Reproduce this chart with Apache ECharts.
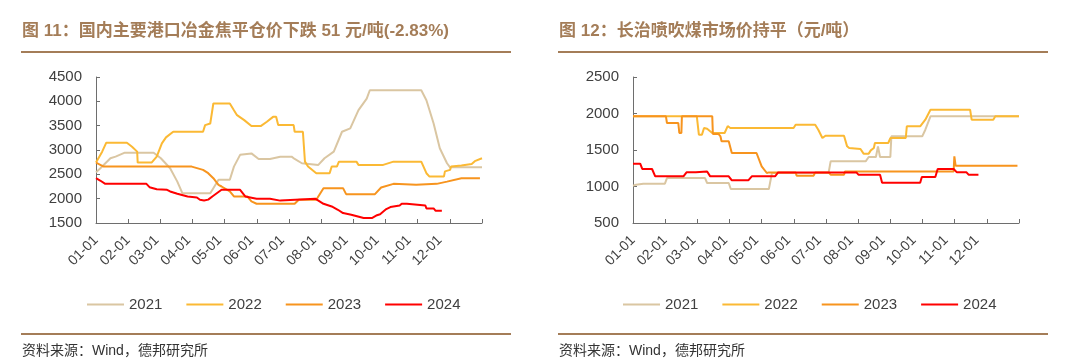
<!DOCTYPE html>
<html>
<head>
<meta charset="utf-8">
<script src="https://cdn.jsdelivr.net/npm/echarts@6/dist/echarts.min.js"></script>
<style>
html,body{margin:0;padding:0;background:#fff;}
#chart{width:1080px;height:364px;}
</style>
</head>
<body>
<div id="chart"></div>
<script>
// ---- tick labels / axes ----
const monthStartDays = [0,31,59,90,120,151,181,212,243,273,304,334];
const monthLabels = ['01-01','02-01','03-01','04-01','05-01','06-01','07-01','08-01','09-01','10-01','11-01','12-01'];
const tickDays = [0,31.25,62.5,93.75,125,156.25,187.5,218.75,250,281.25,312.5,343.75,375];
const years = ['2021','2022','2023','2024'];

// ---- Chart 1: 冶金焦平仓价 (day of year, value) ----
const cokeDays2021 = [0,4,14,19,28,56,63,72,79,84,111,114,119,130,134,140,151,158,169,179,190,193,200,216,222,231,239,247,255,263,266,316,321,328,334,341,344,375];
const coke2021 = [2540,2620,2830,2864,2945,2945,2830,2625,2350,2110,2110,2216,2390,2390,2659,2900,2930,2815,2815,2863,2863,2816,2728,2694,2830,2966,3375,3444,3818,4057,4228,4228,4023,3546,3035,2728,2645,2645];

const cokeDays2022 = [0,6,10,30,35,40,40.5,54,59,64,68,75,104,106,111,114,130,134,137,144,151,160,166,172,175,177,192,193,201,203,206,214,227,229,234,236,253,255,279,289,316,321,324,338,339,344,345,355,365,368,375];
const coke2022 = [2741,2966,3150,3150,3068,2966,2741,2741,2864,3136,3259,3375,3375,3511,3545,3955,3955,3818,3716,3614,3491,3491,3580,3681,3681,3512,3512,3375,3375,2761,2660,2524,2524,2660,2660,2761,2761,2694,2694,2761,2761,2523,2454,2454,2560,2591,2660,2680,2714,2770,2830];

const cokeDays2023 = [0,7.5,93,104,109,114,119,122,130,134,147,151,156,193,197,214,221,240,243,271,277,289,311,331,341,355,373];
const coke2023 = [2741,2659,2659,2591,2523,2420,2284,2250,2148,2045,2045,1943,1895,1895,1977,1977,2216,2216,2093,2093,2230,2304,2285,2304,2350,2420,2420];

const cokeDays2024 = [0,4,9,49,52,59,69,72,79,89,98,101,105,109,114,122,140,145,156,169,170,179,180,213,221,229,235,240,248,260,268,273,276,282,286,295,297,302,303,320,321,328,330,336];
const coke2024 = [2420,2373,2305,2305,2236,2195,2182,2148,2100,2045,2025,1977,1963,1980,2059,2182,2182,2045,1998,1998,1960,1960,2000,2000,1895,1840,1772,1704,1670,1602,1602,1660,1680,1786,1827,1860,1895,1895,1860,1860,1800,1800,1751,1751];

// ---- Chart 2: 长治喷吹煤市场价 ----
const coalDays2021 = [0,3,10,31,33,70,72,93,95,132,135,190,192,226,229,236,238,240,250,251,281,284,289,375];
const coal2021 = [1011,1025,1039,1039,1116,1116,1048,1048,966,966,1185,1185,1345,1345,1404,1404,1550,1404,1404,1687,1687,1778,1961,1961];

const coalDays2022 = [0,62,64,67,69,72,77,89,92,94.5,156,158,177,180,184,187,205,208,210,221,224,229,231,234,235,248,250,265,266,279,284,289,327.5,329,350,352,375];
const coal2022 = [1961,1961,1710,1710,1801,1790,1733,1733,1828,1801,1801,1847,1847,1778,1664,1696,1696,1550,1527,1513,1450,1450,1495,1527,1596,1596,1664,1664,1824,1824,1915,2052,2052,1915,1915,1961,1961];

const coalDays2023 = [0,32,33,44,45,47,47.5,77,77.6,83,85,86,93,96,120,125,130,132,158,159,175.5,177,190,192,205,206,311.5,312.2,313.4,373.5];
const coal2023 = [1961,1961,1870,1870,1733,1733,1961,1961,1720,1720,1686,1619,1619,1459,1459,1276,1185,1193,1193,1148,1148,1193,1193,1162,1162,1207,1207,1413,1285,1285];

const coalDays2024 = [0,7,9,18.5,21.6,49,52,61,62,72,75,93,96,112,115.4,138,141,217,219,240,242,279,280.6,293.7,296,311.5,314.7,324,326,335.6];
const coal2024 = [1313,1313,1240,1240,1139,1139,1194,1194,1205,1205,1139,1139,1084,1084,1139,1139,1193,1193,1162,1162,1052,1052,1130,1130,1240,1240,1194,1194,1162,1162];

const colors = ['#dac6a2','#fbb934','#f7941e','#ff0000'];

function zip(xs, ys){ return xs.map((x,i)=>[x, ys[i]]); }

const baseFont = '"Liberation Sans", Arial, "Noto Sans CJK SC", sans-serif';
const cjkFont = '"Liberation Sans", "Noto Sans CJK SC", sans-serif';
const brown = '#a47d58';
const axisColor = '#6e6e6e';
const textColor = '#404040';
const legendIcon = 'path://M0,6 L37,6 L37,8 L0,8 Z';

function xAxisCfg(gi){
  return {
    type:'value', gridIndex:gi, min:0, max:375,
    axisLine:{show:true, lineStyle:{color:axisColor, width:1}},
    axisTick:{show:true, inside:true, length:4, lineStyle:{color:axisColor}, customValues: tickDays},
    axisLabel:{show:true, rotate:45, margin:15, fontSize:14, color:textColor, fontFamily:baseFont,
      customValues: monthStartDays,
      formatter:function(v){ const i = monthStartDays.indexOf(Math.round(v)); return i>=0 ? monthLabels[i] : ''; }},
    splitLine:{show:false}
  };
}
function yAxisCfg(gi, min, max){
  return {
    type:'value', gridIndex:gi, min:min, max:max, interval:500,
    axisLine:{show:true, lineStyle:{color:axisColor, width:1}},
    axisTick:{show:true, inside:true, length:4, lineStyle:{color:axisColor}},
    axisLabel:{show:true, margin:14, fontSize:15, color:textColor, fontFamily:baseFont,
      formatter:function(v){ return String(v); }},
    splitLine:{show:false}
  };
}
function lineSeries(name, xi, yi, xs, ys, c){
  return {name:name, type:'line', xAxisIndex:xi, yAxisIndex:yi, data:zip(xs, ys),
    symbol:'none', showSymbol:false, lineStyle:{width:2, color:c}, itemStyle:{color:c},
    emphasis:{disabled:true}, animation:false};
}
function legendCfg(left){
  return {
    left:left, top:292, itemWidth:37, itemHeight:14, itemGap:24, icon:legendIcon,
    selectedMode:false,
    textStyle:{fontSize:15, color:textColor, fontFamily:baseFont},
    data: years.map((y,i)=>({name:y, itemStyle:{color:colors[i]}}))
  };
}

const chart = echarts.init(document.getElementById('chart'), null, {renderer:'canvas'});
const option = {
  backgroundColor:'#ffffff',
  animation:false,
  grid:[
    {left:96, top:77, width:386, height:146},
    {left:633, top:77, width:386, height:146}
  ],
  xAxis:[xAxisCfg(0), xAxisCfg(1)],
  yAxis:[yAxisCfg(0,1500,4500), yAxisCfg(1,500,2500)],
  legend:[legendCfg(82), legendCfg(618)],
  series:[
    lineSeries('2021',0,0,cokeDays2021,coke2021,colors[0]),
    lineSeries('2022',0,0,cokeDays2022,coke2022,colors[1]),
    lineSeries('2023',0,0,cokeDays2023,coke2023,colors[2]),
    lineSeries('2024',0,0,cokeDays2024,coke2024,colors[3]),
    lineSeries('2021',1,1,coalDays2021,coal2021,colors[0]),
    lineSeries('2022',1,1,coalDays2022,coal2022,colors[1]),
    lineSeries('2023',1,1,coalDays2023,coal2023,colors[2]),
    lineSeries('2024',1,1,coalDays2024,coal2024,colors[3])
  ],
  graphic:[
    {type:'text', left:22, top:23, style:{text:'图 11：国内主要港口冶金焦平仓价下跌 51 元/吨(-2.83%)', fontSize:17, fontWeight:'bold', fill:brown, fontFamily:cjkFont}},
    {type:'text', left:559, top:23, style:{text:'图 12：长治喷吹煤市场价持平（元/吨）', fontSize:17, fontWeight:'bold', fill:brown, fontFamily:cjkFont}},
    {type:'rect', shape:{x:21, y:51, width:490, height:2}, style:{fill:brown}},
    {type:'rect', shape:{x:558, y:51, width:490, height:2}, style:{fill:brown}},
    {type:'rect', shape:{x:21, y:333, width:490, height:2}, style:{fill:brown}},
    {type:'rect', shape:{x:558, y:333, width:490, height:2}, style:{fill:brown}},
    {type:'text', left:22, top:344, style:{text:'资料来源：Wind，德邦研究所', fontSize:14, fill:'#333333', fontFamily:cjkFont}},
    {type:'text', left:559, top:344, style:{text:'资料来源：Wind，德邦研究所', fontSize:14, fill:'#333333', fontFamily:cjkFont}}
  ]
};
chart.setOption(option);
</script>
</body>
</html>
